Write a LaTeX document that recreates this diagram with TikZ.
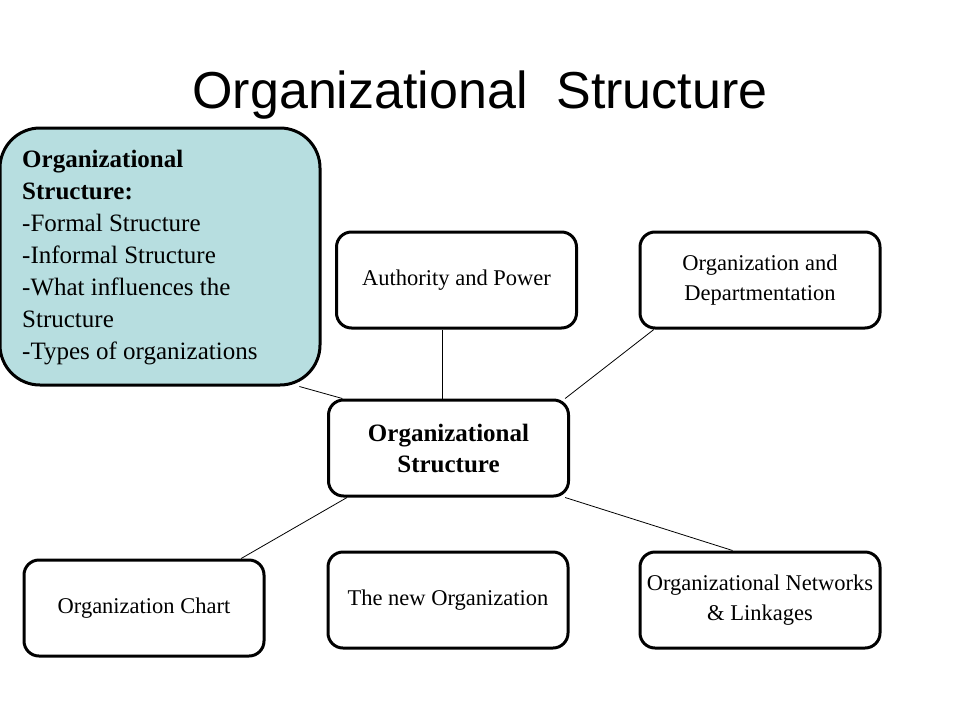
\documentclass[tikz,border=0pt]{standalone}
\usepackage{fontspec}
\setmainfont{Liberation Serif}
\newfontfamily\titlefont{Liberation Sans}
\usetikzlibrary{positioning,calc}
\definecolor{infoteal}{RGB}{183,222,224}
\tikzset{
    topicbox/.style={draw, line width=3pt, rounded corners=15pt, minimum width=240pt,
        minimum height=96pt, inner sep=0pt, align=center,
        font=\fontsize{22.5}{30}\selectfont},
    link/.style={line width=0.8pt}
}

\begin{document}
\begin{tikzpicture}[x=1pt, y=-1pt]
                        \useasboundingbox (0, 0) rectangle (960, 720);
                        \node (title) at (480, 95) {\titlefont\fontsize{52}{60}\selectfont Organizational\ \ Structure};
                        % left summary box
                        \node[draw, line width=3pt, rounded corners=40pt, fill=infoteal, minimum width=320pt,
                            minimum height=257pt, inner sep=0pt] (info) at (160, 256.5) {};
                        \node[anchor=north west, align=left, inner sep=0pt,
                            font=\fontsize{25}{32}\selectfont] (infotext) at (22, 150)
                            {\textbf{Organizational}\\ \textbf{Structure:}\\ -Formal Structure\\ -Informal Structure\\
                             -What influences the\\ Structure\\ -Types of organizations};
                        % topic boxes
                        \node[topicbox] (auth) at (456.5, 280) {Authority and Power};
                        \node[topicbox] (dept) at (760, 280) {Organization and\\ Departmentation};
                        \node[topicbox, font=\fontsize{25}{31}\selectfont\bfseries] (hub) at (448.5, 448) {Organizational\\ Structure};
                        \node[topicbox] (chart) at (144, 608) {Organization Chart};
                        \node[topicbox] (neworg) at (448, 600) {The new Organization};
                        \node[topicbox] (network) at (760, 600) {Organizational Networks\\ \& Linkages};
                        % connectors
                        \draw[link] (info.-43) -- (hub.155.7);
                        \draw[link] ([xshift=-14pt]auth.south) -- ([xshift=-14pt]auth.south |- hub.north);
                        \draw[link] (dept.205.2) -- (hub.23.7);
                        \draw[link] (hub.206.9) -- (chart.27);
                        \draw[link] (hub.-23.3) -- (network.119.4);
                    \end{tikzpicture}
\end{document}
